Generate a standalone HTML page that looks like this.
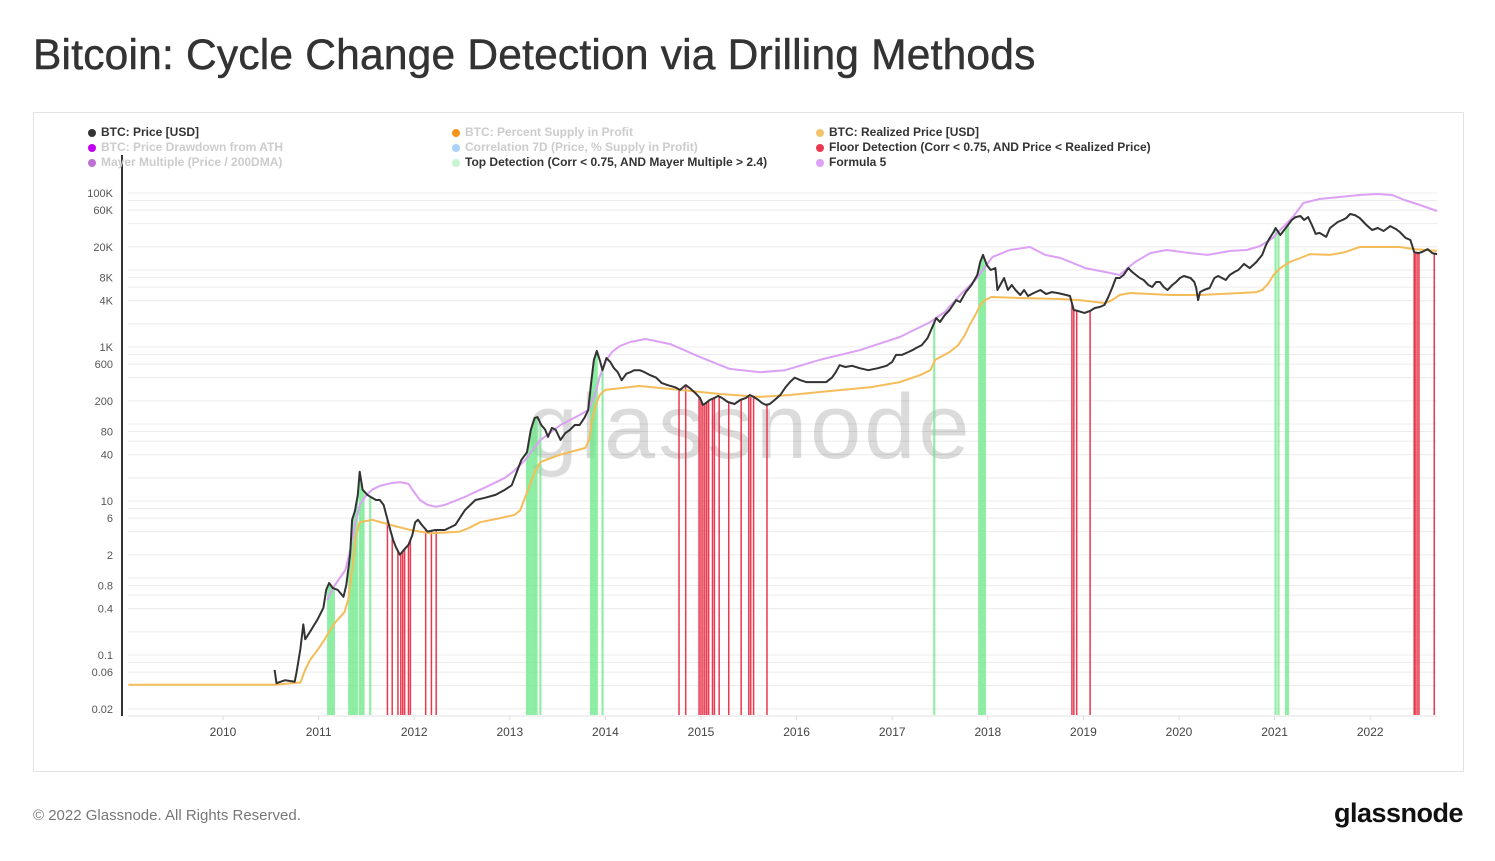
<!DOCTYPE html>
<html><head><meta charset="utf-8"><style>
body{margin:0;width:1495px;height:861px;background:#fff;font-family:"Liberation Sans",sans-serif;position:relative;overflow:hidden}
#title{position:absolute;left:33px;top:32px;font-size:42.5px;color:#333;margin:0;font-weight:normal;letter-spacing:0.2px;-webkit-text-stroke:0.5px #333}
#box{position:absolute;left:33px;top:112px;width:1429px;height:658px;border:1px solid #e3e3e3}
#foot{position:absolute;left:33px;top:807px;font-size:15px;color:#777}
#logo{position:absolute;right:32px;top:798px;font-size:27px;color:#111;font-weight:bold;letter-spacing:-0.5px}
.leg{position:absolute;font-size:12px;white-space:nowrap;font-weight:bold}
.leg i{display:inline-block;width:8px;height:8px;border-radius:50%;margin-right:5px;vertical-align:-0.5px}
svg{position:absolute;left:0;top:0}
</style></head><body>
<h1 id="title">Bitcoin: Cycle Change Detection via Drilling Methods</h1>
<div id="box"></div>
<svg id="chart" width="1495" height="861"></svg>
<div class="leg" style="left:88px;top:125px;color:#333"><i style="background:#333"></i>BTC: Price [USD]</div>
<div class="leg" style="left:88px;top:140px;color:#ccc"><i style="background:#c000f0"></i>BTC: Price Drawdown from ATH</div>
<div class="leg" style="left:88px;top:155px;color:#ccc"><i style="background:#c070d0"></i>Mayer Multiple (Price / 200DMA)</div>
<div class="leg" style="left:452px;top:125px;color:#ccc"><i style="background:#f7931a"></i>BTC: Percent Supply in Profit</div>
<div class="leg" style="left:452px;top:140px;color:#ccc"><i style="background:#a9d3f7"></i>Correlation 7D (Price, % Supply in Profit)</div>
<div class="leg" style="left:452px;top:155px;color:#333"><i style="background:#c8f5d5"></i>Top Detection (Corr &lt; 0.75, AND Mayer Multiple &gt; 2.4)</div>
<div class="leg" style="left:816px;top:125px;color:#333"><i style="background:#f3c46b"></i>BTC: Realized Price [USD]</div>
<div class="leg" style="left:816px;top:140px;color:#333"><i style="background:#e8394f"></i>Floor Detection (Corr &lt; 0.75, AND Price &lt; Realized Price)</div>
<div class="leg" style="left:816px;top:155px;color:#333"><i style="background:#dda0f7"></i>Formula 5</div>
<div id="foot">© 2022 Glassnode. All Rights Reserved.</div>
<div id="logo">glassnode</div>
<script>
const yTicks=[100000,60000,20000,8000,4000,1000,600,200,80,40,10,6,2,0.8,0.4,0.1,0.06,0.02];
const yTickLabels=["100K","60K","20K","8K","4K","1K","600","200","80","40","10","6","2","0.8","0.4","0.1","0.06","0.02"];
const xTicks=[2010,2011,2012,2013,2014,2015,2016,2017,2018,2019,2020,2021,2022];
const priceDates=[2010.54,2010.56,2010.65,2010.75,2010.77,2010.81,2010.84,2010.86,2010.91,2010.99,2011.05,2011.08,2011.11,2011.15,2011.20,2011.26,2011.29,2011.33,2011.35,2011.38,2011.41,2011.43,2011.46,2011.51,2011.56,2011.60,2011.64,2011.68,2011.75,2011.78,2011.81,2011.85,2011.89,2011.94,2011.98,2012.01,2012.04,2012.08,2012.14,2012.22,2012.32,2012.43,2012.53,2012.64,2012.74,2012.85,2012.95,2013.02,2013.08,2013.12,2013.18,2013.22,2013.26,2013.29,2013.33,2013.37,2013.40,2013.44,2013.48,2013.53,2013.58,2013.63,2013.68,2013.73,2013.78,2013.82,2013.85,2013.88,2013.91,2013.94,2013.97,2014.01,2014.05,2014.09,2014.13,2014.17,2014.22,2014.26,2014.30,2014.36,2014.41,2014.47,2014.53,2014.59,2014.65,2014.73,2014.78,2014.84,2014.88,2014.94,2014.99,2015.02,2015.05,2015.09,2015.14,2015.18,2015.22,2015.28,2015.35,2015.41,2015.47,2015.51,2015.55,2015.60,2015.64,2015.68,2015.72,2015.77,2015.83,2015.88,2015.93,2015.98,2016.04,2016.10,2016.16,2016.24,2016.31,2016.37,2016.41,2016.45,2016.51,2016.58,2016.66,2016.75,2016.85,2016.94,2017.00,2017.04,2017.10,2017.17,2017.21,2017.25,2017.31,2017.37,2017.42,2017.46,2017.50,2017.55,2017.60,2017.67,2017.71,2017.77,2017.83,2017.89,2017.92,2017.95,2017.99,2018.03,2018.08,2018.10,2018.13,2018.17,2018.21,2018.25,2018.29,2018.34,2018.38,2018.42,2018.48,2018.55,2018.61,2018.67,2018.73,2018.82,2018.86,2018.88,2018.90,2018.94,2019.01,2019.07,2019.12,2019.17,2019.22,2019.26,2019.30,2019.34,2019.38,2019.42,2019.47,2019.51,2019.55,2019.59,2019.63,2019.68,2019.72,2019.76,2019.80,2019.84,2019.88,2019.93,2019.97,2020.01,2020.05,2020.12,2020.16,2020.18,2020.20,2020.22,2020.26,2020.32,2020.37,2020.41,2020.45,2020.49,2020.53,2020.58,2020.62,2020.68,2020.74,2020.81,2020.87,2020.91,2020.95,2020.99,2021.01,2021.06,2021.10,2021.14,2021.18,2021.22,2021.27,2021.31,2021.35,2021.39,2021.43,2021.47,2021.54,2021.58,2021.62,2021.66,2021.71,2021.75,2021.79,2021.84,2021.89,2021.96,2022.02,2022.08,2022.14,2022.21,2022.27,2022.31,2022.37,2022.42,2022.46,2022.50,2022.54,2022.60,2022.65,2022.70];
const priceValues=[0.064,0.043,0.047,0.045,0.060,0.12,0.25,0.16,0.20,0.29,0.41,0.70,0.86,0.74,0.70,0.57,0.81,2.0,5.7,7.4,12,24,14,12,11,10.3,10.3,8.9,4.2,3.1,2.5,2.0,2.3,2.7,3.6,5.3,5.7,4.9,4.0,4.2,4.2,4.9,7.6,10.3,11,12,14,16,25,34,43,84,120,123,97,84,68,89,84,62,76,84,97,97,120,152,340,680,890,680,500,720,640,530,470,370,450,470,500,500,470,430,400,340,320,300,277,320,294,253,218,177,187,205,218,231,218,193,182,205,218,238,225,205,187,177,182,205,238,294,350,400,370,350,350,350,350,400,470,580,550,570,530,500,530,570,640,790,790,860,910,970,1060,1310,1820,2380,2110,2600,3020,4070,3840,5170,6380,8600,12700,15700,11600,10000,10600,5500,6380,7870,5500,6380,5500,4730,5500,4590,5020,5500,4880,5170,5020,4730,4590,3720,3020,2940,2770,2940,3210,3310,3510,4460,5840,7870,7870,8600,10600,9420,8600,7870,7420,6380,6010,6990,6990,6010,5500,6380,6990,7870,8350,7870,6990,5840,4070,5170,5500,5840,7870,8350,7870,7420,8600,9420,10000,12000,10600,12700,15700,21100,26100,31200,35100,28500,33100,38400,44600,48700,50200,44600,48700,38400,29400,30300,26900,35100,38400,42000,44600,47300,53300,51700,47300,38400,33100,35100,32100,37200,34000,31200,26100,24500,17100,16600,17100,18700,16600,16100];
const realizedDates=[2009.01,2010.54,2010.81,2010.86,2010.91,2010.99,2011.06,2011.12,2011.18,2011.27,2011.31,2011.35,2011.39,2011.43,2011.56,2011.75,2011.96,2012.17,2012.48,2012.58,2012.69,2012.90,2013.05,2013.11,2013.15,2013.19,2013.23,2013.27,2013.32,2013.53,2013.79,2013.83,2013.86,2013.90,2013.94,2014.00,2014.36,2014.78,2015.20,2015.62,2015.93,2016.35,2016.77,2017.08,2017.29,2017.40,2017.45,2017.60,2017.69,2017.76,2017.81,2017.87,2017.92,2017.97,2018.04,2018.34,2018.76,2018.96,2019.23,2019.30,2019.38,2019.49,2019.91,2020.22,2020.64,2020.81,2020.87,2020.93,2020.99,2021.06,2021.16,2021.27,2021.37,2021.58,2021.74,2021.89,2022.31,2022.46,2022.70];
const realizedValues=[0.041,0.041,0.044,0.064,0.086,0.116,0.157,0.21,0.27,0.36,0.52,1.27,3.6,5.3,5.7,4.9,4.2,3.8,4.0,4.5,5.3,6.0,6.6,7.6,10.3,14,19,25,32,40,49,62,113,177,238,277,312,277,245,225,238,268,300,350,430,500,680,860,1060,1430,1930,2600,3510,4070,4460,4330,4200,4070,3720,4070,4730,5020,4730,4730,5020,5170,5500,6580,8600,10600,12700,14300,16100,15700,17100,19900,19900,18700,17700];
const formulaDates=[2011.09,2011.17,2011.28,2011.33,2011.38,2011.43,2011.50,2011.56,2011.64,2011.75,2011.85,2011.94,2012.00,2012.06,2012.14,2012.23,2012.32,2012.53,2012.79,2012.95,2013.05,2013.16,2013.32,2013.53,2013.73,2013.82,2013.89,2013.94,2014.01,2014.07,2014.15,2014.26,2014.42,2014.68,2014.99,2015.30,2015.62,2015.88,2016.24,2016.66,2017.08,2017.40,2017.55,2017.71,2017.87,2018.05,2018.23,2018.44,2018.60,2018.76,2019.02,2019.28,2019.38,2019.54,2019.70,2019.87,2020.12,2020.30,2020.54,2020.71,2020.85,2020.98,2021.11,2021.19,2021.30,2021.47,2021.68,2021.89,2022.07,2022.23,2022.36,2022.52,2022.70];
const formulaValues=[0.52,0.81,1.27,2.3,4.9,8.9,12,14,15.7,17,17.6,16.7,13,10.3,8.9,8.4,8.9,11.3,16,20,25,34,62,97,131,152,238,410,680,860,1030,1160,1270,1090,740,520,470,500,680,910,1350,2110,2850,4730,7420,14800,18200,19900,15700,14300,10600,9140,8600,12700,16600,18200,16600,15700,17700,18200,20500,26100,38400,48700,74100,83600,88700,94200,97000,94200,81100,69800,58300];
const topDates=[2011.10,2011.12,2011.14,2011.16,2011.32,2011.34,2011.36,2011.38,2011.40,2011.43,2011.45,2011.47,2011.54,2013.18,2013.20,2013.22,2013.24,2013.26,2013.28,2013.32,2013.85,2013.87,2013.89,2013.91,2013.97,2017.44,2017.91,2017.93,2017.95,2017.97,2021.01,2021.04,2021.12,2021.14];
const floorDates=[2011.72,2011.77,2011.83,2011.86,2011.88,2011.90,2011.94,2011.96,2012.12,2012.18,2012.23,2014.77,2014.84,2014.98,2015.00,2015.02,2015.04,2015.06,2015.08,2015.12,2015.14,2015.19,2015.29,2015.42,2015.50,2015.52,2015.55,2015.69,2018.88,2018.90,2018.93,2019.07,2022.46,2022.47,2022.49,2022.51,2022.67];

const NS="http://www.w3.org/2000/svg";
const svg=document.getElementById('chart');
const X0=128,X1=1437,YB=715;
function xs(d){return 223+(d-2010)*95.6;}
function ys(v){return 347-77*(Math.log10(v)-3);}
function mk(tag,attrs,parent){const e=document.createElementNS(NS,tag);for(const k in attrs)e.setAttribute(k,attrs[k]);(parent||svg).appendChild(e);return e;}
function priceAt(d){
  if(d<=priceDates[0])return priceValues[0];
  for(let i=1;i<priceDates.length;i++){if(priceDates[i]>=d){const t=(d-priceDates[i-1])/(priceDates[i]-priceDates[i-1]);return Math.pow(10,Math.log10(priceValues[i-1])*(1-t)+Math.log10(priceValues[i])*t);}}
  return priceValues[priceValues.length-1];
}
const mults=[1,2,4,6,8];
for(let k=-2;k<=5;k++)for(const m of mults){const v=m*Math.pow(10,k);const y=ys(v);if(y<185||y>712)continue;
 const g=mk('line',{x1:X0,x2:X1,y1:y,y2:y,stroke:'#ececec','stroke-width':1});
 
 }
const wm=mk('text',{x:748,y:458,'font-size':92,'text-anchor':'middle',fill:'#000','fill-opacity':0.14,'font-family':'Liberation Sans, sans-serif',textLength:443});
wm.textContent='glassnode';


const xa=mk('line',{x1:X0,x2:X1,y1:YB+1,y2:YB+1,stroke:'#e0e0e0','stroke-width':1});


const ya=mk('line',{x1:122,x2:122,y1:155,y2:YB+1,stroke:'#333','stroke-width':2});


yTicks.forEach((v,i)=>{const t=mk('text',{x:113,y:ys(v)+4,'font-size':11,'text-anchor':'end',fill:'#555','font-family':'Liberation Sans, sans-serif'});t.textContent=yTickLabels[i];
 
 });
xTicks.forEach(d=>{const t=mk('text',{x:xs(d),y:736,'font-size':12,'text-anchor':'middle',fill:'#444','font-family':'Liberation Sans, sans-serif'});t.textContent=String(d);
 
 
 const tk=mk('line',{x1:xs(d),x2:xs(d),y1:YB+1,y2:YB+5,stroke:'#ddd'});
 
 });
topDates.forEach(d=>{const y=ys(priceAt(d));const r=mk('rect',{x:xs(d)-1.1,y:y,width:2.2,height:YB-y,fill:'#6ee88a','fill-opacity':0.75});
 
 });
floorDates.forEach(d=>{const y=ys(priceAt(d));const r=mk('rect',{x:xs(d)-0.75,y:y,width:1.5,height:YB-y,fill:'#e8394f'});
 
 });
function line(dates,vals,color,w,name){let p='';dates.forEach((d,i)=>{p+=(i?'L':'M')+xs(d).toFixed(1)+' '+ys(vals[i]).toFixed(1);});
 const e=mk('path',{d:p,fill:'none',stroke:color,'stroke-width':w,'stroke-linejoin':'round'});
 
 }
line(formulaDates,formulaValues,'#dca0f5',2,'formula-5-line');
line(realizedDates,realizedValues,'#f5bd5a',2,'realized-price-line');
line(priceDates,priceValues,'#333',2,'price-line');
</script>
</body></html>
